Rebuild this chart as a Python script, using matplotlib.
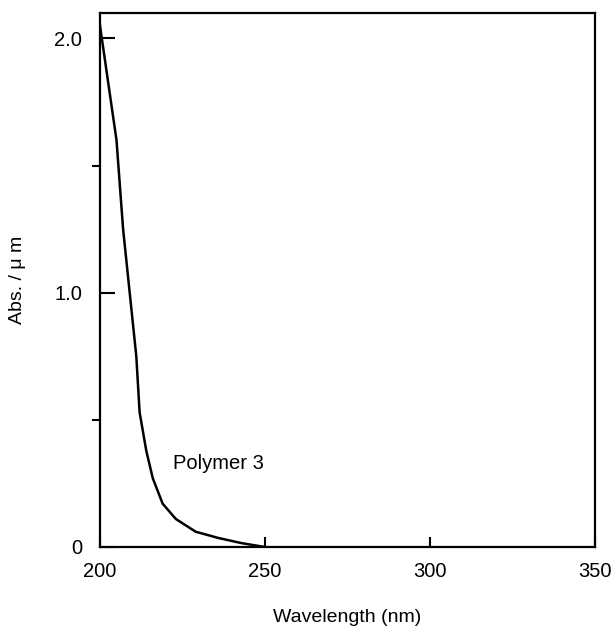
import matplotlib
matplotlib.use("Agg")
import matplotlib.pyplot as plt
from matplotlib.ticker import FixedLocator

plt.rcParams["font.family"] = ["Liberation Sans", "DejaVu Sans"]

# absorbance spectrum of polymer 3
wavelength = [200, 203, 205, 207, 209, 211, 212, 214, 216, 219, 223, 229, 236, 243, 250]
absorbance = [2.05, 1.78, 1.60, 1.25, 1.00, 0.75, 0.53, 0.38, 0.27, 0.17, 0.11, 0.06, 0.035, 0.015, 0.0]

xticks = [200, 250, 300, 350]
yticks = [0, 1.0, 2.0]
ytick_labels = ["0", "1.0", "2.0"]
yminor = [0.5, 1.5]

fig = plt.figure(figsize=(6.12, 6.28), dpi=100)
ax = fig.add_axes([100 / 612, 1 - 547 / 628, 495 / 612, 534 / 628])

ax.plot(wavelength, absorbance, color="black", lw=1.8)
ax.text(222, 0.33, "Polymer 3", fontsize=14.5, va="center", ha="left")

ax.set_xlim(200, 350)
ax.set_ylim(0, 2.1)
ax.set_xticks(xticks)
ax.set_yticks(yticks)
ax.set_yticklabels(ytick_labels)
ax.yaxis.set_minor_locator(FixedLocator(yminor))

ax.tick_params(axis="both", direction="in", labelsize=14.5, width=1.5, color="black")
ax.tick_params(axis="x", length=7, pad=11)
ax.tick_params(axis="y", which="major", length=11, pad=13)
ax.tick_params(axis="y", which="minor", length=6, width=1.5)

for sp in ax.spines.values():
    sp.set_linewidth(1.6)

ax.set_xlabel("Wavelength (nm)", fontsize=14, labelpad=20)
ax.set_ylabel("Abs. / \u03bc m", fontsize=14, labelpad=20)

fig.savefig("out.png", dpi=100)
